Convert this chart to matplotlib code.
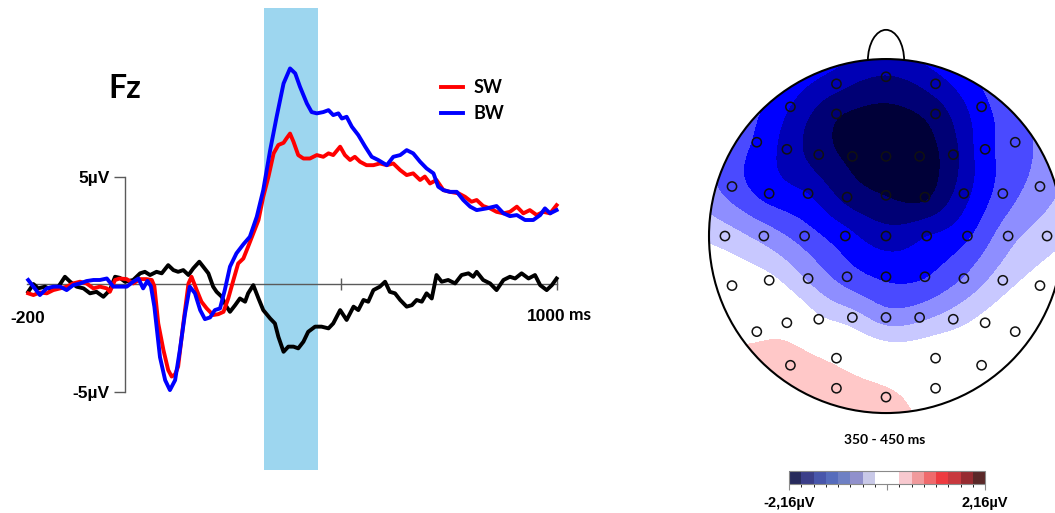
import numpy as np
import matplotlib as mpl
import matplotlib.pyplot as plt
from matplotlib.colors import ListedColormap, BoundaryNorm
from matplotlib.patches import Circle, Arc

plt.rcParams['font.family'] = ['Liberation Sans', 'DejaVu Sans']

# --- ERP at Fz (ms, µV) ---
sw_ms = [-224, -212, -197, -181, -166, -150, -135, -120, -104, -89, -73, -58, -42, -35, -23, -12, 4, 19, 35, 50, 62,
         68, 77, 89, 100, 108, 116, 123, 135, 147, 154, 166, 177, 189, 204, 216, 228, 239, 251, 262, 274,
         285, 297, 309, 320, 332, 344, 355, 367, 374, 382, 390, 401, 413, 428, 444, 459, 471, 482, 498, 509,
         521, 532, 544, 559, 575, 590, 606, 621, 637, 652, 667, 683, 694, 706, 721, 737, 752, 772, 787, 802,
         814, 829, 845, 860, 876, 891, 907, 922, 937, 953, 968, 984, 999]
sw_uv = [-0.43, -0.51, -0.39, -0.43, -0.28, -0.20, -0.12, 0.03, 0.11, 0.03, -0.20, -0.12, -0.20, -0.36, 0.19, 0.26,
         0.23, 0.03, 0.23, 0.23, 0.19,
         -0.10, -1.83, -3.07, -4.00, -4.30, -4.20, -3.84, -1.83, 0.03, 0.34, -0.28, -0.82, -1.13, -1.44, -1.40,
         -1.29, -0.67, 0.19, 0.96, 1.19, 1.74, 2.36, 2.98, 4.06, 4.99, 6.08, 6.47, 6.57, 6.78, 7.00, 6.62, 6.00,
         5.84, 5.84, 6.00, 5.92, 6.08, 6.00, 6.39, 6.00, 5.77, 5.92, 5.69, 5.53, 5.53, 5.61, 5.53, 5.61, 5.30,
         5.07, 5.15, 4.84, 5.00, 4.68, 4.84, 4.37, 4.29, 4.22, 4.06, 3.83, 3.91, 3.63, 3.52, 3.36, 3.29, 3.36,
         3.60, 3.29, 3.44, 3.21, 3.36, 3.29, 3.67]

bw_ms = [-224, -212, -197, -181, -166, -150, -135, -120, -104, -89, -73, -58, -42, -27, -12, 4, 19, 31, 42, 52, 60,
         68, 81, 93, 104, 116, 127, 139, 150, 162, 174, 185, 197, 208, 220, 231, 243, 258, 274, 289, 305,
         320, 336, 351, 367, 382, 394, 405, 421, 432, 444, 459, 471, 482, 494, 502, 513, 525, 540, 556, 571,
         586, 606, 621, 637, 652, 667, 683, 698, 714, 725, 737, 752, 768, 783, 799, 814, 837, 860, 876, 891,
         907, 926, 945, 961, 972, 984, 999]
bw_uv = [0.19, -0.12, -0.51, -0.20, -0.12, -0.12, -0.28, -0.05, 0.03, 0.14, 0.19, 0.19, 0.26, -0.12, -0.12, -0.12,
         0.11, 0.26, -0.20, 0.15, -0.10,
         -1.05, -3.40, -4.47, -4.93, -4.47, -3.07, -1.36, -0.12, -0.43, -1.21, -1.63, -1.55, -1.21, -1.13, -0.28,
         0.81, 1.43, 1.85, 2.20, 3.13, 4.37, 6.23, 7.78, 9.33, 10.03, 9.80, 9.18, 8.40, 8.00, 7.94, 8.00, 8.09,
         7.86, 7.94, 7.70, 7.78, 7.32, 6.93, 6.39, 5.92, 5.77, 5.53, 5.92, 6.00, 6.23, 6.08, 5.69, 5.38, 5.15,
         4.53, 4.37, 4.29, 4.29, 3.91, 3.60, 3.44, 3.52, 3.63, 3.29, 3.16, 3.21, 2.98, 2.98, 3.21, 3.52, 3.29, 3.44]

diff_ms = [-224, -212, -201, -185, -170, -154, -139, -127, -112, -96, -81, -66, -50, -35, -23, -12, 0,
           19, 35, 46, 58, 73, 85, 100, 112, 123, 135, 147, 158, 172, 181, 193, 204, 212, 224, 235, 243,
           255, 266, 278, 285, 297, 309, 320, 336, 347, 355, 367, 378, 390, 401, 413, 424, 440, 455, 471, 482,
           498, 513, 529, 540, 552, 563, 575, 590, 602, 613, 625, 637, 652, 664, 675, 687, 698, 710, 721, 733,
           748, 764, 779, 795, 806, 814, 829, 845, 860, 876, 891, 903, 918, 934, 949, 961, 976, 988, 999]
diff_uv = [-0.36, 0.00, -0.20, -0.12, -0.28, -0.12, 0.34, 0.11, -0.12, -0.20, -0.43, -0.36, -0.59, -0.28, 0.34,
           0.29, 0.11,
           0.19, 0.50, 0.57, 0.42, 0.57, 0.50, 0.88, 0.65, 0.57, 0.65, 0.42, 0.73, 1.04, 0.81, 0.50, -0.12, -0.36,
           -0.59, -1.05, -1.29, -0.98, -0.67, -0.82, -0.43, -0.05, -0.67, -1.21, -1.60, -1.83, -2.45, -3.15, -2.91,
           -2.91, -2.99, -2.68, -2.22, -1.98, -1.98, -2.06, -1.83, -1.21, -1.67, -1.05, -1.21, -0.74, -0.82, -0.28,
           -0.12, 0.11, -0.36, -0.43, -0.74, -1.05, -0.98, -0.74, -0.82, -0.43, -0.67, 0.42, 0.11, 0.19, 0.03,
           0.42, 0.50, 0.34, 0.57, 0.19, 0.03, -0.28, 0.19, 0.34, 0.26, 0.50, 0.26, 0.42, -0.05, -0.28, -0.05, 0.26]

window_ms = [322, 447]
window_uv = [-8.65, 12.85]

# --- scalp map: electrode positions (head radius = 1) and mean amplitude in the window ---
elec_x = [0.00,
          -0.28, 0.28,
          -0.54, -0.28, 0.28, 0.54,
          -0.73, -0.56, -0.38, -0.19, 0.00, 0.19, 0.38, 0.56, 0.73,
          -0.87, -0.66, -0.44, -0.22, 0.00, 0.22, 0.44, 0.66, 0.87,
          -0.91, -0.69, -0.46, -0.23, 0.00, 0.23, 0.46, 0.69, 0.91,
          -0.87, -0.66, -0.44, -0.22, 0.00, 0.22, 0.44, 0.66, 0.87,
          -0.73, -0.56, -0.38, -0.19, 0.00, 0.19, 0.38, 0.56, 0.73,
          -0.54, -0.28, 0.28, 0.54,
          -0.28, 0.28,
          0.00]
elec_y = [0.90,
          0.86, 0.86,
          0.73, 0.69, 0.69, 0.73,
          0.53, 0.49, 0.46, 0.45, 0.45, 0.45, 0.46, 0.49, 0.53,
          0.28, 0.24, 0.24, 0.22, 0.23, 0.22, 0.24, 0.24, 0.28,
          0.00, 0.00, 0.00, 0.00, 0.00, 0.00, 0.00, 0.00, 0.00,
          -0.28, -0.25, -0.24, -0.23, -0.23, -0.23, -0.24, -0.25, -0.28,
          -0.54, -0.49, -0.47, -0.46, -0.46, -0.46, -0.47, -0.49, -0.54,
          -0.73, -0.69, -0.69, -0.73,
          -0.86, -0.86,
          -0.91]
elec_uv = [-1.64,
           -1.52, -1.48,
           -1.36, -1.86, -1.78, -1.18,
           -1.13, -1.46, -1.76, -1.95, -2.05, -2.03, -1.72, -1.18, -0.95,
           -0.95, -1.20, -1.36, -1.72, -1.90, -1.94, -1.46, -0.97, -0.70,
           -0.40, -0.65, -0.95, -1.25, -1.50, -1.36, -1.13, -0.65, -0.40,
           -0.05, -0.20, -0.58, -0.95, -1.13, -1.10, -0.80, -0.40, -0.15,
           0.20, 0.12, -0.22, -0.42, -0.68, -0.62, -0.40, -0.18, 0.00,
           0.42, 0.20, 0.00, -0.05,
           0.40, 0.10,
           0.33]

levels = np.linspace(-2.16, 2.16, 17)
map_colors = ['#000038', '#000075', '#0000b5', '#0000ff', '#4a4aff', '#8e8eff', '#c8c8ff', '#ffffff',
              '#ffffff', '#ffc8c8', '#ff8e8e', '#ff4a4a', '#ff0000', '#b50000', '#750000', '#380000']
bar_colors = ['#272a5c', '#3b3e89', '#4856ab', '#566cbc', '#6e80c4', '#9090cc', '#c9c9e8', '#ffffff',
              '#ffffff', '#f8c9cf', '#f09a9c', '#ef6a6c', '#ee3b40', '#c8383e', '#972b31', '#5a2828']


def biharmonic(xe, ye, ve, gx, gy):
    # Sandwell biharmonic spline, same idea as griddata 'v4'
    xe, ye, ve = map(np.asarray, (xe, ye, ve))
    d = np.hypot(xe[:, None] - xe[None, :], ye[:, None] - ye[None, :])
    with np.errstate(divide='ignore', invalid='ignore'):
        g = np.where(d > 0, d ** 2 * (np.log(d) - 1), 0.0)
    w = np.linalg.solve(g, ve)
    dg = np.hypot(gx[..., None] - xe, gy[..., None] - ye)
    with np.errstate(divide='ignore', invalid='ignore'):
        gg = np.where(dg > 0, dg ** 2 * (np.log(dg) - 1), 0.0)
    return gg @ w


W, H = 1055, 513
fig = plt.figure(figsize=(W / 100, H / 100), dpi=100)

# ---------------- ERP panel ----------------
ax = fig.add_axes([20 / W, 38 / H, 550 / W, 470 / H])
ax.set_xlim(-243, 1030)
ax.set_ylim(-8.88, 12.98)
ax.patch.set_alpha(0)

ax.fill_betweenx(window_uv, window_ms[0], window_ms[1], color='#9dd6ef', lw=0, zorder=0)
ax.plot(diff_ms, diff_uv, color='black', lw=2.8, zorder=3)
ax.plot(sw_ms, sw_uv, color='#ff0000', lw=2.8, label='SW', zorder=4)
ax.plot(bw_ms, bw_uv, color='#0000ff', lw=2.8, label='BW', zorder=5)

for s in ['top', 'right']:
    ax.spines[s].set_visible(False)
ax.spines['left'].set_position(('data', 0))
ax.spines['left'].set_bounds(-5, 5)
ax.spines['bottom'].set_position(('data', 0))
ax.spines['bottom'].set_bounds(-226, 1000)
for s in ['left', 'bottom']:
    ax.spines[s].set_color('#5a5a5a')
    ax.spines[s].set_linewidth(1.0)

ax.set_yticks([-5, 5])
ax.set_yticklabels(['-5µV', '5µV'])
ax.tick_params(axis='y', direction='out', length=8, width=1, color='#5a5a5a', pad=3, labelsize=12.5)
ax.set_xticks([500, 1000])
ax.set_xticklabels([])
ax.tick_params(axis='x', direction='inout', length=9, width=1, color='#5a5a5a')
for lbl in ax.get_yticklabels():
    lbl.set_fontweight('bold')

ax.text(-226, -1.58, '-200', ha='center', va='center', fontsize=12.5, fontweight='bold')
ax.text(975, -1.53, '1000', ha='center', va='center', fontsize=12.5, fontweight='bold')
ax.text(1054, -1.45, 'ms', ha='center', va='center', fontsize=12.5, fontweight='bold', family='Lato')
ax.text(0, 9.1, 'Fz', ha='center', va='center', fontsize=23, fontweight='bold', family='Lato')

ax.legend(loc='upper left', bbox_to_anchor=(441 / W, 1 - 79 / H), bbox_transform=fig.transFigure,
          frameon=False, borderpad=0, borderaxespad=0, handlelength=1.2, handletextpad=0.6,
          labelspacing=0.5, prop={'family': 'Lato', 'weight': 'bold', 'size': 13})

# ---------------- scalp map ----------------
tax = fig.add_axes([664.75 / W, 91.1 / H, 442.5 / W, 407.1 / H])
tax.set_xlim(-1.25, 1.25)
tax.set_ylim(-1.05, 1.25)
tax.axis('off')

gx, gy = np.meshgrid(np.linspace(-1.02, 1.02, 241), np.linspace(-1.02, 1.02, 241))
field = biharmonic(elec_x, elec_y, elec_uv, gx, gy)

map_cmap = ListedColormap(map_colors)
map_cmap.set_under(map_colors[0])
map_cmap.set_over(map_colors[-1])
cs = tax.contourf(gx, gy, field, levels=levels, cmap=map_cmap, norm=BoundaryNorm(levels, 16), extend='both')
cs.set_clip_path(Circle((0, 0), 1.0, transform=tax.transData))

tax.add_patch(Arc((0, 0.99), 0.205, 0.35, theta1=0, theta2=180, color='black', lw=1.3))
tax.add_patch(Circle((0, 0), 1.0, fill=False, ec='black', lw=1.5, zorder=4))
tax.scatter(elec_x, elec_y, s=44, facecolors='none', edgecolors='#111111', linewidths=1.1, zorder=5)

fig.text(885 / W, 1 - 440 / H, '350 - 450 ms', ha='center', va='center', fontsize=10,
         fontweight='bold', family='Lato')

# ---------------- colour scale ----------------
cax = fig.add_axes([789 / W, 29 / H, 196 / W, 13 / H])
cb = mpl.colorbar.ColorbarBase(cax, cmap=ListedColormap(bar_colors), norm=BoundaryNorm(levels, 16),
                               orientation='horizontal', ticks=[-2.16, 0, 2.16])
cb.set_ticklabels(['-2,16µV', '', '2,16µV'])
cb.outline.set_edgecolor('#8a8a8a')
cb.outline.set_linewidth(0.8)
cax.tick_params(length=4, width=0.8, color='#8a8a8a', labelsize=10.5, pad=5)
for lbl in cax.get_xticklabels():
    lbl.set_fontweight('bold')

fig.savefig('out.png', dpi=100)
